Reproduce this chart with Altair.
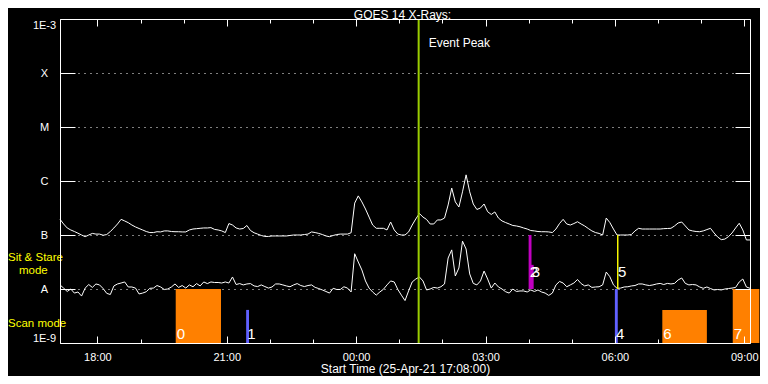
import altair as alt
import pandas as pd

# ---------------- data ----------------
START = "2021-04-25 17:08"
END = "2021-04-26 09:08"
CADENCE = "5min"

TITLE = "GOES 14 X-Rays:"
X_TITLE = "Start Time (25-Apr-21 17:08:00)"

# GOES long channel (1-8 A), units of 1e-7 W/m^2, every 5 min from 17:08
long_flux_e7 = [
    1.96, 1.6, 1.35, 1.24, 1.16, 1.08, 1.0, 0.93, 1.0, 1.07,
    1.04, 1.04, 0.99, 1.02, 1.16, 1.35, 1.6, 1.95, 1.82, 1.69,
    1.53, 1.41, 1.32, 1.24, 1.16, 1.11, 1.11, 1.15, 1.14, 1.19,
    1.19, 1.16, 1.15, 1.15, 1.14, 1.14, 1.24, 1.29, 1.31, 1.33,
    1.35, 1.35, 1.37, 1.27, 1.24, 1.19, 1.11, 1.63, 1.53, 1.35,
    1.29, 1.32, 1.5, 1.21, 1.1, 1.04, 0.98, 0.94, 0.94, 0.96,
    0.96, 0.96, 0.96, 0.96, 0.98, 1.0, 1.0, 1.0, 1.02, 1.04,
    1.14, 1.11, 1.07, 1.02, 0.96, 0.93, 0.98, 1.02, 1.04, 1.04,
    1.04, 1.1, 3.9, 5.3, 4.1, 3.03, 2.15, 1.53, 1.33, 1.33,
    1.33, 1.24, 1.74, 1.24, 1.04, 1.0, 1.0, 1.14, 1.53, 1.98,
    2.5, 2.15, 1.94, 1.6, 1.6, 1.9, 1.9, 2.06, 3.6, 7.4,
    4.1, 3.3, 6.3, 13.0, 6.3, 3.75, 2.97, 3.16, 3.75, 2.7,
    2.4, 2.67, 2.06, 1.82, 1.7, 1.6, 1.5, 1.47, 1.42, 1.35,
    1.29, 1.21, 1.19, 1.16, 1.15, 1.15, 1.14, 1.11, 1.29, 1.63,
    1.95, 1.6, 1.53, 1.63, 1.76, 1.6, 1.47, 1.32, 1.19, 1.11,
    1.07, 1.0, 2.06, 1.7, 1.29, 1.0, 1.0, 1.0, 1.0, 1.02,
    1.19, 1.33, 1.29, 1.29, 1.29, 1.29, 1.29, 1.29, 1.31, 1.32,
    1.33, 1.47, 1.67, 1.74, 1.47, 1.24, 1.19, 1.16, 1.15, 1.19,
    1.26, 1.33, 1.09, 0.92, 0.82, 0.84, 0.93, 1.09, 1.35, 1.65,
    1.24, 0.81, 0.81,
]

# GOES short channel (0.5-4 A), units of 1e-8 W/m^2
short_flux_e8 = [
    1.19, 1.04, 0.9, 1.0, 0.84, 0.88, 0.74, 1.04, 1.21, 1.07,
    1.24, 1.19, 1.02, 0.83, 0.79, 1.14, 1.24, 1.29, 1.35, 1.09,
    1.09, 1.04, 0.81, 0.84, 0.89, 1.03, 1.04, 1.16, 1.09, 0.98,
    1.0, 1.09, 1.24, 1.07, 1.16, 1.04, 1.19, 1.1, 1.26, 1.14,
    1.35, 1.26, 1.35, 1.32, 1.32, 1.29, 1.35, 1.29, 1.67, 1.21,
    1.26, 1.19, 1.24, 1.26, 1.14, 1.11, 1.19, 1.11, 1.04, 1.09,
    1.24, 1.24, 1.19, 1.14, 1.1, 1.19, 1.26, 1.16, 1.11, 1.16,
    1.19, 1.07, 1.02, 0.96, 0.9, 0.84, 1.03, 0.98, 0.98, 1.1,
    1.04, 0.88, 4.5, 3.16, 2.25, 1.41, 1.04, 0.88, 0.77, 0.88,
    0.99, 1.19, 1.41, 1.35, 0.98, 0.77, 0.61, 0.92, 1.35, 1.53,
    1.67, 1.41, 0.96, 1.0, 1.07, 1.04, 1.1, 1.24, 3.75, 5.3,
    1.74, 2.45, 7.7, 5.5, 1.9, 1.27, 1.19, 1.41, 2.15, 1.53,
    1.04, 1.29, 1.09, 1.0, 0.89, 0.84, 1.0, 0.9, 0.92, 0.92,
    0.88, 0.96, 0.9, 0.96, 0.88, 0.84, 0.76, 0.84, 1.19, 1.38,
    1.29, 1.1, 1.19, 1.29, 1.5, 1.26, 1.14, 1.19, 1.07, 1.09,
    1.1, 1.19, 2.06, 1.69, 1.19, 1.03, 1.04, 1.09, 1.1, 1.14,
    1.16, 1.24, 1.24, 1.19, 1.16, 1.19, 1.24, 1.27, 1.21, 1.27,
    1.24, 1.27, 1.47, 1.6, 1.27, 1.19, 1.21, 1.19, 1.09, 1.03,
    1.09, 1.02, 0.96, 0.98, 0.96, 1.0, 1.02, 1.04, 1.07, 1.35,
    1.53, 1.09, 1.03,
]

# flux levels and their names on the y axis
level_values = [1e-9, 1e-8, 1e-7, 1e-6, 1e-5, 1e-4, 1e-3]
level_names = ["1E-9", "A", "B", "C", "M", "X", "1E-3"]

# numbered observation markers
event_labels = ["0", "1", "2", "3", "4", "5", "6", "7"]
event_start = ["2021-04-25T19:49:00Z", "2021-04-25T21:27:00Z", "2021-04-26T04:00:00Z",
               "2021-04-26T04:03:00Z", "2021-04-26T06:00:00Z", "2021-04-26T06:03:00Z",
               "2021-04-26T07:06:00Z", "2021-04-26T08:44:00Z"]
event_end = ["2021-04-25T20:52:00Z", "2021-04-25T21:31:00Z", "2021-04-26T04:04:00Z",
             "2021-04-26T04:07:00Z", "2021-04-26T06:04:00Z", "2021-04-26T06:05:00Z",
             "2021-04-26T08:08:00Z", "2021-04-26T09:21:00Z"]
event_low = [1e-9, 1e-9, 1e-8, 1e-8, 1e-9, 1e-8, 1e-9, 1e-9]
event_high = [1e-8, 4.1e-9, 1e-7, 2.8e-8, 1e-8, 1e-7, 4.1e-9, 1e-8]
event_label_flux = [1.19e-9, 1.19e-9, 1.67e-8, 1.67e-8, 1.19e-9, 1.67e-8, 1.19e-9, 1.19e-9]
event_color = ["#ff8000", "#6060ff", "#c000c0", "#c000c0", "#6060ff", "#ffff00", "#ff8000", "#ff8000"]
event_wide = [True, False, False, False, False, False, True, True]

peak_time = "2021-04-26T01:27:00Z"
peak_text = "Event Peak"
peak_text_flux = 3.6e-4

mode_texts = ["Sit & Stare", "mode", "Scan mode"]
mode_flux = [3.75e-8, 2.2e-8, 2.25e-9]
mode_dx = [0, 11, 0]

# ---------------- tables ----------------
times = pd.date_range(START, periods=len(long_flux_e7), freq=CADENCE, tz="UTC")
tstr = list(times.strftime("%Y-%m-%dT%H:%M:%SZ"))
curves = pd.DataFrame({
    "t": tstr + tstr,
    "flux": [v * 1e-7 for v in long_flux_e7] + [v * 1e-8 for v in short_flux_e8],
    "channel": ["long"] * len(long_flux_e7) + ["short"] * len(short_flux_e8),
})
events = pd.DataFrame({
    "label": event_labels, "t0": event_start, "t1": event_end,
    "lo": event_low, "hi": event_high, "ly": event_label_flux,
    "color": event_color, "wide": event_wide,
})
peak = pd.DataFrame({"t": [peak_time], "lo": [1e-9], "hi": [1e-3],
                     "ty": [peak_text_flux], "text": [peak_text]})
modes = pd.DataFrame({"text": mode_texts, "flux": mode_flux, "dx": mode_dx})
title_df = pd.DataFrame({"text": [TITLE]})


def dt(ts):
    return alt.DateTime(year=ts.year, month=ts.month, date=ts.day,
                        hours=ts.hour, minutes=ts.minute, utc=True)


t_start = pd.Timestamp(START, tz="UTC")
t_end = pd.Timestamp(END, tz="UTC")
hourly = [dt(t) for t in pd.date_range("2021-04-25 18:00", "2021-04-26 09:00", freq="1h", tz="UTC")]
three_hourly = [dt(t) for t in pd.date_range("2021-04-25 18:00", "2021-04-26 09:00", freq="3h", tz="UTC")]

W, H = 690, 324
xscale = alt.Scale(type="utc", domain=[dt(t_start), dt(t_end)], nice=False)
yscale = alt.Scale(type="log", domain=[1e-9, 1e-3], nice=False)

e = "round(log(datum.value)/LN10)"
label_expr = "'" + level_names[-1] + "'"
for k in range(len(level_values) - 2, -1, -1):
    label_expr = f"{e} == {k - 9} ? '{level_names[k]}' : " + label_expr

WHITE = "white"

x_label_axis = alt.Axis(orient="bottom", values=three_hourly, format="%H:%M",
                        labelColor=WHITE, labelFontSize=11, labelPadding=8,
                        ticks=False, tickSize=0, domain=False, grid=False, labelFlush=False,
                        title=X_TITLE, titleColor=WHITE, titleFontSize=12,
                        titleFontWeight="normal", titleY=20)
y_label_axis = alt.Axis(orient="left", values=level_values, labelExpr=label_expr,
                        labelAlign="center", labelPadding=16, ticks=False, tickSize=0,
                        domain=False, grid=True, gridColor=WHITE, gridDash=[1, 5],
                        gridOpacity=1, gridWidth=1, labelColor=WHITE, labelFontSize=11,
                        labelFlush=True, title=None)


def tick_axis(orient, offset, values, size, frame):
    return alt.Axis(orient=orient, offset=offset, values=values, tickSize=size,
                    ticks=True, tickColor=WHITE, tickWidth=1, labels=False,
                    domain=frame, domainColor=WHITE, domainWidth=1, grid=False,
                    title=None, zindex=1 if frame else 0)


dummy = alt.Chart(curves).mark_point(opacity=0, size=1)
d1 = dummy.encode(x=alt.X("t:T", scale=xscale, axis=tick_axis("top", -H, hourly, 4, False)),
                  y=alt.Y("flux:Q", scale=yscale, axis=None))
d2 = dummy.encode(x=alt.X("t:T", scale=xscale, axis=tick_axis("top", -H, three_hourly, 7, True)),
                  y=alt.Y("flux:Q", scale=yscale, axis=tick_axis("right", -W, level_values, 15, True)))
d3 = dummy.encode(x=alt.X("t:T", scale=xscale, axis=tick_axis("bottom", -H, hourly, 4, False)),
                  y=alt.Y("flux:Q", scale=yscale, axis=None))
d4 = dummy.encode(x=alt.X("t:T", scale=xscale, axis=tick_axis("bottom", -H, three_hourly, 7, True)),
                  y=alt.Y("flux:Q", scale=yscale, axis=tick_axis("left", -W, level_values, 15, True)))

wide_rects = alt.Chart(events).transform_filter("datum.wide").mark_rect().encode(
    x=alt.X("t0:T", scale=xscale, axis=None), x2="t1:T",
    y=alt.Y("lo:Q", scale=yscale, axis=None), y2="hi:Q",
    color=alt.Color("color:N", scale=None))

lines = alt.Chart(curves).mark_line(color=WHITE, strokeWidth=1).encode(
    x=alt.X("t:T", scale=xscale, axis=x_label_axis),
    y=alt.Y("flux:Q", scale=yscale, axis=y_label_axis),
    detail="channel:N")

thin_rects = alt.Chart(events).transform_filter("!datum.wide").mark_rect().encode(
    x=alt.X("t0:T", scale=xscale, axis=None), x2="t1:T",
    y=alt.Y("lo:Q", scale=yscale, axis=None), y2="hi:Q",
    color=alt.Color("color:N", scale=None))

peak_rule = alt.Chart(peak).mark_rule(color="#9acd00", strokeWidth=2).encode(
    x=alt.X("t:T", scale=xscale, axis=None),
    y=alt.Y("lo:Q", scale=yscale, axis=None), y2="hi:Q")
peak_label = alt.Chart(peak).mark_text(align="left", baseline="middle", dx=10,
                                       color=WHITE, fontSize=12).encode(
    x=alt.X("t:T", scale=xscale, axis=None),
    y=alt.Y("ty:Q", scale=yscale, axis=None), text="text:N")

event_text = alt.Chart(events).mark_text(align="left", baseline="alphabetic", dx=1,
                                         color=WHITE, fontSize=15).encode(
    x=alt.X("t0:T", scale=xscale, axis=None),
    y=alt.Y("ly:Q", scale=yscale, axis=None), text="label:N")

mode_layers = []
for txt, fl, dx in zip(mode_texts, mode_flux, mode_dx):
    mode_layers.append(
        alt.Chart(modes).transform_filter(alt.datum.text == txt)
        .mark_text(align="left", baseline="middle", color="yellow", fontSize=11.5, dx=dx)
        .encode(x=alt.value(-52), y=alt.Y("flux:Q", scale=yscale, axis=None), text="text:N"))

title = alt.Chart(title_df).mark_text(align="center", baseline="alphabetic",
                                      color=WHITE, fontSize=12).encode(
    x=alt.value(342.5), y=alt.value(0), text="text:N")

chart = alt.layer(
    d1, d3, wide_rects, lines, thin_rects, peak_rule, peak_label, event_text,
    *mode_layers, title, d2, d4,
).resolve_axis(x="independent", y="independent").properties(
    width=W, height=H,
    autosize=alt.AutoSizeParams(type="none"),
    padding={"left": 52, "top": 11, "right": 10, "bottom": 33},
    background="black",
).configure(font="Liberation Sans").configure_view(strokeWidth=0)

chart.save("out.html", embed_options={"renderer": "svg", "actions": False})
